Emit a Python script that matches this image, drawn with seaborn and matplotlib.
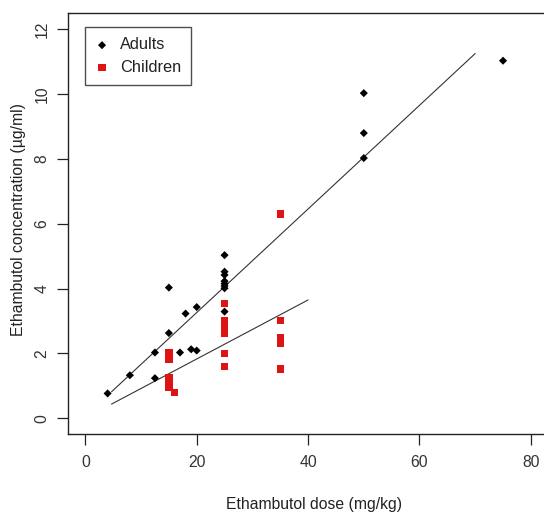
import matplotlib
matplotlib.use("Agg")
import matplotlib.pyplot as plt
import numpy as np
import pandas as pd
import seaborn as sns

# Adults: dose (mg/kg) and concentration (ug/ml)
adult_dose = [4, 8, 12.5, 12.5, 15, 15, 17, 18, 19, 20, 20,
              25, 25, 25, 25, 25, 25, 25, 25, 50, 50, 50, 75]
adult_conc = [0.77, 1.33, 2.03, 1.24, 4.03, 2.63, 2.03, 3.23, 2.13, 3.43, 2.09,
              5.03, 4.52, 4.42, 4.23, 4.15, 4.08, 4.01, 3.29, 10.02, 8.79, 8.02, 11.02]

# Children
child_dose = [15, 15, 15, 15, 15, 15, 16,
              25, 25, 25, 25, 25, 25, 25,
              35, 35, 35, 35, 35]
child_conc = [2.01, 1.83, 1.25, 1.15, 1.05, 0.95, 0.80,
              3.54, 3.00, 2.88, 2.76, 2.63, 2.00, 1.60,
              6.30, 3.02, 2.49, 2.32, 1.52]

# fitted lines (endpoints)
adult_fit_x = [4.7, 70.0]
adult_fit_y = [0.82, 11.24]
child_fit_x = [4.7, 40.0]
child_fit_y = [0.44, 3.65]

x_ticks = [0, 20, 40, 60, 80]
y_ticks = [0, 2, 4, 6, 8, 10, 12]

sns.set_style("ticks")
plt.rcParams["font.family"] = ["Liberation Sans", "DejaVu Sans"]
plt.rcParams["font.size"] = 11.3

adults = pd.DataFrame({"dose": adult_dose, "conc": adult_conc})
children = pd.DataFrame({"dose": child_dose, "conc": child_conc})

fig = plt.figure(figsize=(5.44, 5.16), dpi=100)
ax = fig.add_axes([67.5 / 544, (516 - 434) / 516, 481.2 / 544, 420.7 / 516])

sns.lineplot(x=adult_fit_x, y=adult_fit_y, ax=ax, color="#333333", lw=0.8)
sns.lineplot(x=child_fit_x, y=child_fit_y, ax=ax, color="#333333", lw=0.8)

sns.scatterplot(data=adults, x="dose", y="conc", ax=ax, marker="D", s=17,
                color="black", edgecolor="none", label="Adults", zorder=3)
sns.scatterplot(data=children, x="dose", y="conc", ax=ax, marker="s", s=28,
                color="#DD1414", edgecolor="none", label="Children", zorder=3)

ax.set_xlim(-3.2, 83.2)
ax.set_ylim(-0.48, 12.48)
ax.set_xticks(x_ticks)
ax.set_yticks(y_ticks)
ax.set_yticklabels([str(v) for v in y_ticks], rotation=90, va="center")

for side in ["left", "right", "top", "bottom"]:
    ax.spines[side].set_visible(True)
    ax.spines[side].set_color("#222222")
    ax.spines[side].set_linewidth(1.0)

ax.tick_params(axis="both", direction="out", length=8, width=0.9,
               color="#222222", labelcolor="#333333", labelsize=11.3)
ax.tick_params(axis="x", pad=7)
ax.tick_params(axis="y", pad=5)

ax.set_xlabel("Ethambutol dose (mg/kg)", color="#222222")
ax.set_ylabel("Ethambutol concentration (µg/ml)", color="#222222")
ax.xaxis.set_label_coords(0.512, -70 / 420.7)
ax.xaxis.label.set_va("center")
ax.yaxis.set_label_coords(-49.5 / 481.2, 0.51)
ax.yaxis.label.set_va("center")

leg = ax.legend(loc="upper left", bbox_to_anchor=(0.037, 0.9667),
                borderaxespad=0, fancybox=False, frameon=True,
                handlelength=0.8, handletextpad=0.7, labelspacing=0.45,
                borderpad=0.62, fontsize=11.8)
leg.get_frame().set_edgecolor("#222222")
leg.get_frame().set_linewidth(1.0)
for t in leg.get_texts():
    t.set_color("#222222")

fig.savefig("out.png", dpi=100)
